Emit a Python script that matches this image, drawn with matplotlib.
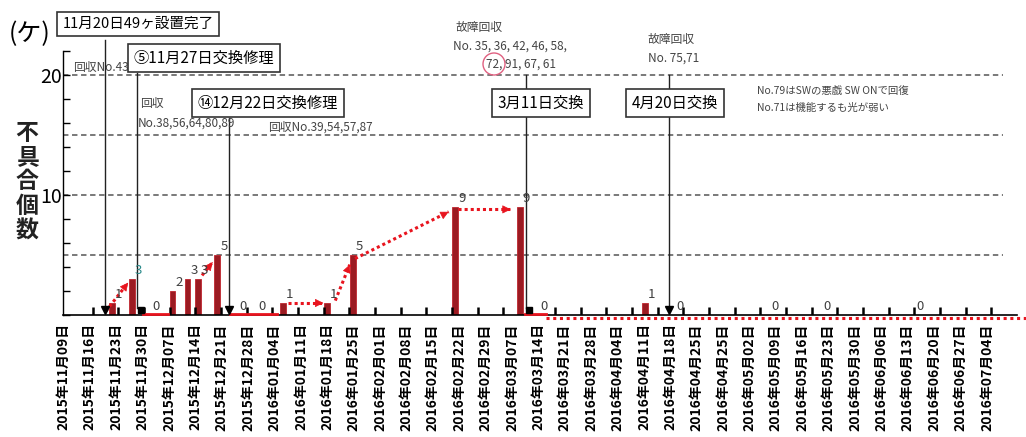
import numpy as np
import matplotlib
matplotlib.use("Agg")
import matplotlib.pyplot as plt
from matplotlib.patches import Ellipse

plt.rcParams['font.family'] = ['Noto Sans CJK JP', 'DejaVu Sans']

# ---- data -------------------------------------------------------------
week_labels = [
    "2015年11月09日", "2015年11月16日", "2015年11月23日", "2015年11月30日",
    "2015年12月07日", "2015年12月14日", "2015年12月21日", "2015年12月28日",
    "2016年01月04日", "2016年01月11日", "2016年01月18日", "2016年01月25日",
    "2016年02月01日", "2016年02月08日", "2016年02月15日", "2016年02月22日",
    "2016年02月29日", "2016年03月07日", "2016年03月14日", "2016年03月21日",
    "2016年03月28日", "2016年04月04日", "2016年04月11日", "2016年04月18日",
    "2016年04月25日", "2016年04月25日", "2016年05月02日", "2016年05月09日",
    "2016年05月16日", "2016年05月23日", "2016年05月30日", "2016年06月06日",
    "2016年06月13日", "2016年06月20日", "2016年06月27日", "2016年07月04日",
]

# failure counts, positioned along the weekly axis (week index, fractional)
fail_pos = [1.85, 2.6, 3.27, 4.13, 4.7, 5.1, 5.83, 6.57, 7.29, 8.33,
            10.0, 10.98, 14.85, 17.3, 17.95, 22.05, 23.12, 26.72, 28.69, 32.21]
fail_cnt = [1, 3, 0, 2, 3, 3, 5, 0, 0, 1,
            1, 5, 9, 9, 0, 1, 0, 0, 0, 0]

# replacement / installation events: (position, arrow end style)
event_pos = [1.59, 2.8, 6.29, 17.54, 22.95]
event_marker = ['v', 's', 'v', 's', 'v']

# trend arrows (start pos, start value, end pos, end value)
trend_start_x = [1.6, 5.25, 8.5, 10.3, 11.05, 14.95]
trend_start_y = [0.3, 3.3, 1.0, 1.2, 4.7, 8.8]
trend_end_x = [2.45, 5.65, 9.85, 10.85, 14.6, 16.95]
trend_end_y = [2.7, 4.4, 1.0, 4.2, 8.6, 8.8]
flat_runs = [(3.0, 3.95), (6.3, 8.1), (17.5, 18.3)]
tail_x = [18.3, 36.6]
tail_y = [-0.25, -0.25]

# ---- layout ------------------------------------------------------------
W, H = 1026, 437
fig = plt.figure(figsize=(W / 100, H / 100), dpi=100)
ax_left, ax_bottom_px, ax_top_px, ax_right = 63, 315, 51, 1017
ax = fig.add_axes([ax_left / W, 1 - ax_bottom_px / H,
                   (ax_right - ax_left) / W, (ax_bottom_px - ax_top_px) / H])
YMAX = 22.0
ax.set_ylim(0, YMAX)
ax.set_xlim(-0.02, 36.14)


def fxy(px, py):
    return (px / W, 1 - py / H)


def ydata(py):
    return (ax_bottom_px - py) / (ax_bottom_px - ax_top_px) * YMAX


RED = '#e8141e'
BAR = '#9b1b22'

# grid lines
for g in (5, 10, 15, 20):
    ax.axhline(g, xmin=0, xmax=0.985, color='#6e6e6e', lw=1.3,
               ls=(0, (3, 2)), zorder=0.5)

# short weekly marks standing on the baseline
week_marks = np.linspace(1.1, 35.17, 36)
ax.vlines(week_marks, 0, 0.65, color='black', lw=1.8, zorder=2.6)

# bars + value labels
ax.bar(fail_pos, fail_cnt, width=0.22, color=BAR, edgecolor='#c0262e',
       linewidth=0.6, zorder=2)
for p, v in zip(fail_pos, fail_cnt):
    col = '#2a8a8a' if (v == 3 and p < 3) else '#404040'
    ax.text(p + 0.25, v + 0.15, str(v), ha='center', va='bottom',
            fontsize=9.5, color=col, zorder=4)

# trend arrows
for x0, y0, x1, y1 in zip(trend_start_x, trend_start_y, trend_end_x, trend_end_y):
    ax.plot([x0, x1], [y0, y1], color=RED, lw=2.2, ls=(0, (1, 1)),
            zorder=3, clip_on=False)
    dx, dy = x1 - x0, y1 - y0
    ax.annotate('', xy=(x1, y1), xytext=(x1 - dx * 0.05, y1 - dy * 0.05),
                arrowprops=dict(arrowstyle='-|>', color=RED, lw=0.5,
                                mutation_scale=13), zorder=3)
for a, b in flat_runs:
    ax.plot([a, b], [0.05, 0.05], color=RED, lw=2.0, zorder=3, clip_on=False)
ax.plot(tail_x, tail_y, color=RED, lw=2.2, ls=(0, (1, 1.2)), zorder=3,
        clip_on=False)

# event lines down to the baseline
event_top = [ydata(40), ydata(73), ydata(118), 20, 20]
for p, top, m in zip(event_pos, event_top, event_marker):
    ax.plot([p, p], [top, 0.55], color='#222222', lw=1.0, zorder=3,
            clip_on=False)
    ax.plot([p + (0.12 if m == 's' else 0)], [0.45], marker=m, color='black',
            markersize=6 if m == 'v' else 5, zorder=4, clip_on=False)

# axes styling
for s in ('top', 'right'):
    ax.spines[s].set_visible(False)
ax.spines['left'].set_linewidth(1.0)
ax.spines['bottom'].set_linewidth(1.2)
ax.spines['left'].set_bounds(0, YMAX)

ax.set_yticks(np.arange(0, 23, 2))
ax.set_yticklabels(['10' if t == 10 else '20' if t == 20 else ''
                    for t in np.arange(0, 23, 2)], fontsize=14)
ax.tick_params(axis='y', direction='in', length=5, width=1.0, pad=1)

ax.set_xticks(range(len(week_labels)))
ax.set_xticklabels(week_labels, rotation=90, fontsize=10, fontweight='bold',
                   va='top')
ax.tick_params(axis='x', which='major', length=0, pad=6)

# y-axis title
fig.text(*fxy(30, 34), '(ケ)', fontsize=18, ha='center', va='center')
fig.text(*fxy(27, 182), '\n'.join('不具合個数'), fontsize=16.5, ha='center',
         va='center', fontweight='bold', linespacing=1.08, color='#222222')

# boxed annotations
box = dict(boxstyle='square,pad=0.35', fc='white', ec='#333333', lw=1.2)
fig.text(*fxy(138, 24), '11月20日49ヶ設置完了', fontsize=10.5, ha='center',
         va='center', bbox=box, zorder=10)
fig.text(*fxy(204, 58), '⑤11月27日交換修理', fontsize=11, ha='center',
         va='center', bbox=box, zorder=10)
fig.text(*fxy(268, 103), '⑭12月22日交換修理', fontsize=11, ha='center',
         va='center', bbox=box, zorder=10)
fig.text(*fxy(541, 103), '3月11日交換', fontsize=11, ha='center',
         va='center', bbox=box, zorder=10)
fig.text(*fxy(675, 103), '4月20日交換', fontsize=11, ha='center',
         va='center', bbox=box, zorder=10)

# small notes
note = dict(fontsize=8.5, color='#444444', va='center', ha='left')
fig.text(*fxy(73, 67), '回収No.43', **note)
fig.text(*fxy(140, 103), '回収', **note)
fig.text(*fxy(138, 123), 'No.38,56,64,80,89', **note)
fig.text(*fxy(268, 127), '回収No.39,54,57,87', **note)
fig.text(*fxy(455, 28), '故障回収', **note)
fig.text(*fxy(453, 46), 'No. 35, 36, 42, 46, 58,', **note)
fig.text(*fxy(486, 64), '72, 91, 67, 61', **note)
fig.text(*fxy(648, 40), '故障回収', **note)
fig.text(*fxy(648, 58), 'No. 75,71', **note)
fig.text(*fxy(757, 91), 'No.79はSWの悪戯 SW ONで回復', fontsize=7.5,
         color='#444444', va='center', ha='left')
fig.text(*fxy(757, 108), 'No.71は機能するも光が弱い', fontsize=7.5,
         color='#444444', va='center', ha='left')
fig.patches.append(Ellipse(fxy(494, 64), 22 / W, 22 / H, fill=False,
                           ec='#e06080', lw=1.0, transform=fig.transFigure))

fig.savefig('out.png', dpi=100)
